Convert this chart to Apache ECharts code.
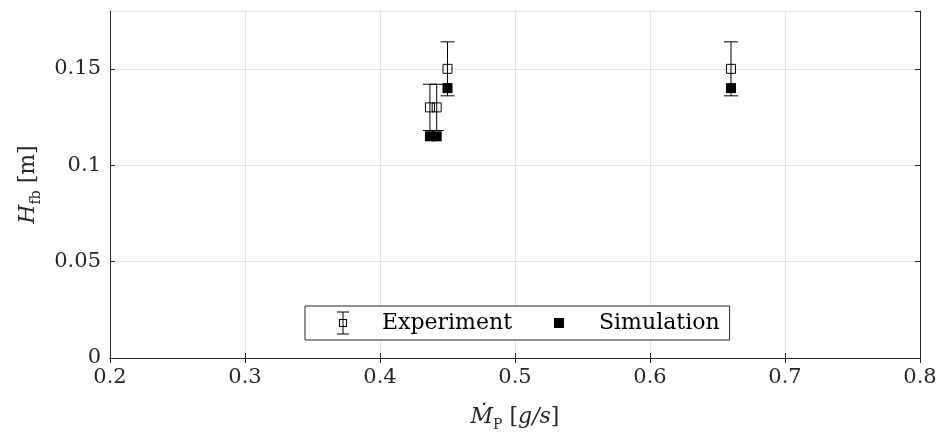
<!DOCTYPE html>
<html>
<head>
<meta charset="utf-8">
<script src="https://cdn.jsdelivr.net/npm/echarts@6/dist/echarts.min.js"></script>
<style>
html,body{margin:0;padding:0;background:#fff;}
#chart{width:941px;height:437px;}
</style>
</head>
<body>
<div id="chart"></div>
<script>
// ---- data ----
var expX = [0.437, 0.442, 0.45, 0.66];
var expY = [0.13, 0.13, 0.15, 0.15];
var expErr = [0.012, 0.012, 0.014, 0.014];
var simX = [0.437, 0.442, 0.45, 0.66];
var simY = [0.115, 0.115, 0.14, 0.14];
var xTicks = [0.2, 0.3, 0.4, 0.5, 0.6, 0.7, 0.8];
var yTicks = [0, 0.05, 0.1, 0.15];
var seriesNames = ['Experiment', 'Simulation'];

// ---- build ----
var expData = expX.map(function (x, i) { return [x, expY[i]]; });
var errData = expX.map(function (x, i) { return [x, expY[i] - expErr[i], expY[i] + expErr[i]]; });
var simData = simX.map(function (x, i) { return [x, simY[i]]; });

var FONT = 'DejaVu Serif';
var AX = '#262626';

var expIcon = 'path://M0 0L0 0ZM41 24L41 24Z' +
  'M1 0.5H13V1.5H1Z' +
  'M1 22.5H13V23.5H1Z' +
  'M6.5 1H7.5V23H6.5Z' +
  'M3 8H11V9H3Z' +
  'M3 15H11V16H3Z' +
  'M3 8H4V16H3Z' +
  'M10 8H11V16H10Z';
var simIcon = 'path://M0 0L0 0ZM41 24L41 24Z' + 'M1 7H11V17H1Z';

var chart = echarts.init(document.getElementById('chart'));
chart.setOption({
  animation: false,
  backgroundColor: '#fff',
  grid: { left: 110, right: 21, top: 11, bottom: 77, show: false },
  legend: {
    left: 305, top: 306,
    orient: 'horizontal',
    itemWidth: 41, itemHeight: 24, itemGap: 41,
    padding: [5, 10, 5, 31],
    backgroundColor: '#fff',
    borderColor: AX, borderWidth: 1, borderRadius: 0,
    textStyle: { fontFamily: FONT, fontSize: 22, color: '#000' },
    data: [
      { name: seriesNames[0], icon: expIcon, itemStyle: { color: '#000', borderWidth: 0 } },
      { name: seriesNames[1], icon: simIcon, itemStyle: { color: '#000', borderWidth: 0 } }
    ]
  },
  xAxis: [{
    type: 'value', min: xTicks[0], max: xTicks[xTicks.length - 1], interval: 0.1,
    position: 'bottom',
    axisLine: { show: true, lineStyle: { color: AX, width: 1 } },
    axisTick: { show: true, inside: true, length: 5, lineStyle: { color: AX } },
    axisLabel: { margin: 9, fontFamily: FONT, fontSize: 21, color: AX },
    splitLine: { show: true, lineStyle: { color: '#e3e3e3', width: 1 } },
    name: '{i|Ṁ}{s|P}{n| [}{i|g/s}{n|]}',
    nameLocation: 'middle', nameGap: 44,
    nameTextStyle: {
      rich: {
        i: { fontFamily: FONT, fontStyle: 'italic', fontSize: 22, color: AX, lineHeight: 30 },
        n: { fontFamily: FONT, fontSize: 22, color: AX, lineHeight: 30 },
        s: { fontFamily: FONT, fontSize: 14, color: AX, verticalAlign: 'bottom', lineHeight: 18 }
      }
    }
  }, {
    type: 'value', min: xTicks[0], max: xTicks[xTicks.length - 1], interval: 0.1,
    position: 'top',
    axisLine: { show: true, lineStyle: { color: AX, width: 1 } },
    axisTick: { show: true, inside: true, length: 5, lineStyle: { color: AX } },
    axisLabel: { show: false },
    splitLine: { show: false }
  }],
  yAxis: [{
    type: 'value', min: 0, max: 0.18, interval: 0.05,
    position: 'left',
    axisLine: { show: true, lineStyle: { color: AX, width: 1 } },
    axisTick: { show: true, inside: true, length: 5, lineStyle: { color: AX } },
    axisLabel: {
      margin: 9, fontFamily: FONT, fontSize: 21, color: AX, showMaxLabel: false,
      formatter: function (v) { return yTicks.indexOf(+v.toFixed(4)) >= 0 ? String(+v.toFixed(4)) : ''; }
    },
    splitLine: { show: true, lineStyle: { color: '#e3e3e3', width: 1 } },
    name: '{i|H}{s|fb}{n| [m]}',
    nameLocation: 'middle', nameGap: 64, nameRotate: 90,
    nameTextStyle: {
      rich: {
        i: { fontFamily: FONT, fontStyle: 'italic', fontSize: 22, color: AX, lineHeight: 30 },
        n: { fontFamily: FONT, fontSize: 22, color: AX, lineHeight: 30 },
        s: { fontFamily: FONT, fontSize: 14, color: AX, verticalAlign: 'bottom', lineHeight: 18 }
      }
    }
  }, {
    type: 'value', min: 0, max: 0.18, interval: 0.05,
    position: 'right',
    axisLine: { show: true, lineStyle: { color: AX, width: 1 } },
    axisTick: { show: true, inside: true, length: 5, lineStyle: { color: AX } },
    axisLabel: { show: false },
    splitLine: { show: false }
  }],
  series: [{
    name: 'errorbar',
    type: 'custom',
    xAxisIndex: 0, yAxisIndex: 0,
    data: errData,
    z: 2,
    renderItem: function (params, api) {
      var x = api.value(0);
      var lo = api.coord([x, api.value(1)]);
      var hi = api.coord([x, api.value(2)]);
      var hw = 7;
      var st = { stroke: '#000', lineWidth: 1, fill: null };
      return {
        type: 'group',
        children: [
          { type: 'line', shape: { x1: hi[0], y1: hi[1], x2: lo[0], y2: lo[1] }, style: st },
          { type: 'line', shape: { x1: hi[0] - hw, y1: hi[1], x2: hi[0] + hw, y2: hi[1] }, style: st },
          { type: 'line', shape: { x1: lo[0] - hw, y1: lo[1], x2: lo[0] + hw, y2: lo[1] }, style: st }
        ]
      };
    }
  }, {
    name: seriesNames[0],
    type: 'scatter',
    data: expData,
    symbol: 'rect', symbolSize: 9,
    z: 3,
    itemStyle: { color: 'rgba(0,0,0,0)', borderColor: '#000', borderWidth: 1, opacity: 1 }
  }, {
    name: seriesNames[1],
    type: 'scatter',
    data: simData,
    symbol: 'rect', symbolSize: 10,
    z: 4,
    itemStyle: { color: '#000', opacity: 1 }
  }]
});
</script>
</body>
</html>
